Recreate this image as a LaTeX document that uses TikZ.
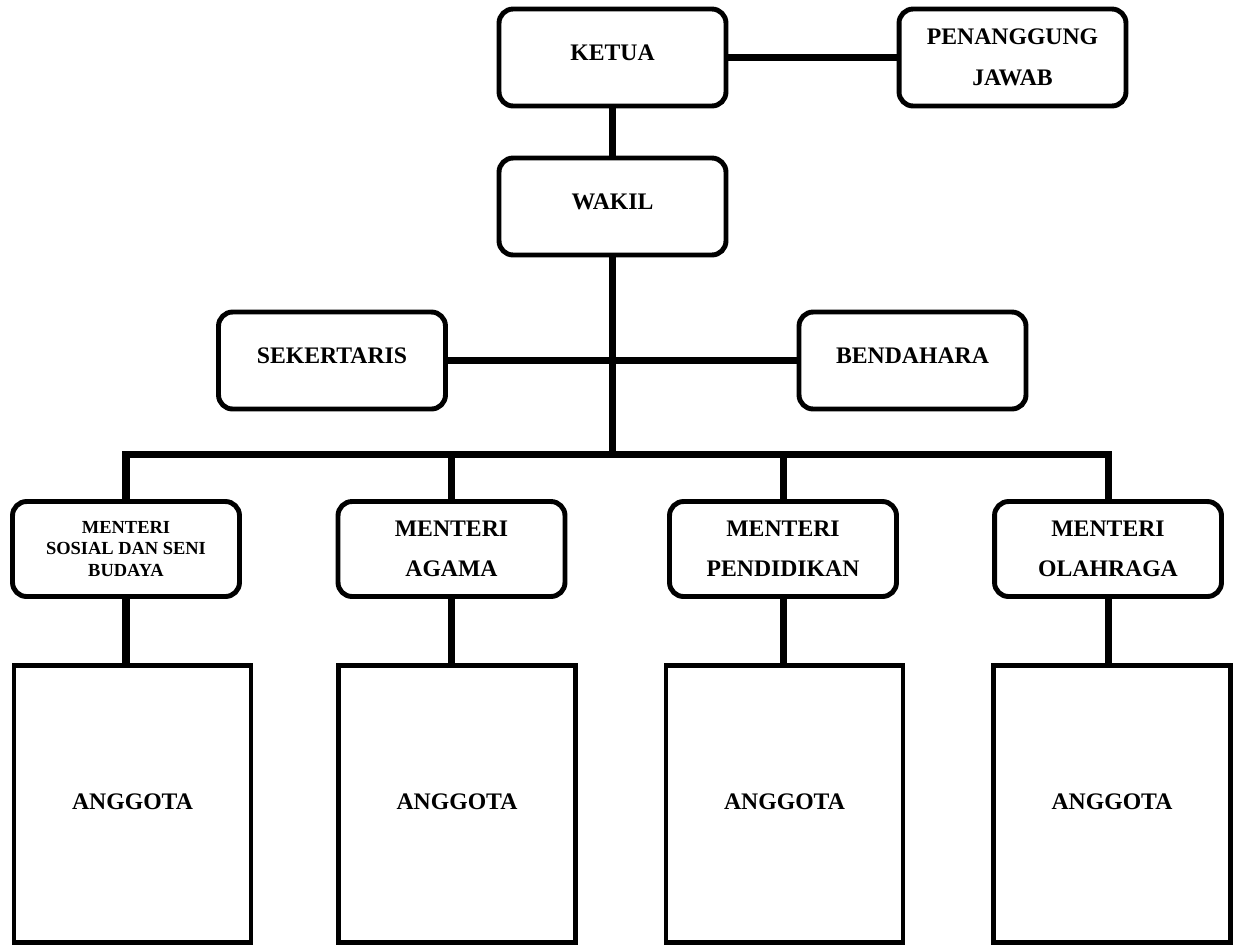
\documentclass[tikz,border=0pt]{standalone}
\usepackage{fontspec}
\setmainfont{Liberation Serif}
\usepackage{tikz}
\usetikzlibrary{calc}

\begin{document}
\begin{tikzpicture}[x=0.02cm,y=-0.02cm,
    jabatan/.style={rectangle, rounded corners=8pt, draw=black, line width=2.8pt, minimum width=4.54cm, minimum height=1.94cm, inner sep=2pt, align=center, font=\fontsize{13.5}{23}\selectfont\bfseries},
    satu/.style={text depth=5pt},
    anggota/.style={rectangle, draw=black, line width=2.8pt, minimum width=4.74cm, minimum height=5.54cm, text depth=3pt, font=\fontsize{13.5}{23}\selectfont\bfseries},
    garis/.style={line width=4pt}]

\useasboundingbox (0,0) rectangle (1239,948);

%the top
    \node[jabatan, satu] (ketua) at (612.5,57.5) {KETUA};
    \node[jabatan] (pj) at (1012.5,57.5) {PENANGGUNG\\JAWAB};
    \node[jabatan, satu] (wakil) at (612.5,206.5) {WAKIL};
    \node[jabatan, satu] (sek) at (332,360.5) {SEKERTARIS};
    \node[jabatan, satu] (ben) at (912.5,360.5) {BENDAHARA};
    \coordinate (bus) at (612.5,454);

%the ministers
    \node[jabatan, minimum height=1.9cm, font=\fontsize{10.5}{12}\selectfont\bfseries] (m1) at (126,549) {MENTERI\\SOSIAL DAN SENI\\BUDAYA};
    \node[jabatan, minimum height=1.9cm] (m2) at (451.5,549) {MENTERI\\AGAMA};
    \node[jabatan, minimum height=1.9cm] (m3) at (783,549) {MENTERI\\PENDIDIKAN};
    \node[jabatan, minimum height=1.9cm] (m4) at (1108,549) {MENTERI\\OLAHRAGA};

%the members
    \node[anggota] (a1) at (132.5,804) {ANGGOTA};
    \node[anggota] (a2) at (457,804) {ANGGOTA};
    \node[anggota] (a3) at (784.5,804) {ANGGOTA};
    \node[anggota] (a4) at (1112,804) {ANGGOTA};

%the lines
    \draw[garis] (ketua) to (pj);
    \draw[garis] (ketua) to (wakil);
    \draw[garis] (wakil) to (bus);
    \draw[garis] (sek) to (ben);
    \draw[garis] (m1.north) -- (m1.north |- bus) -- (m4.north |- bus) -- (m4.north);
\foreach \i in {2,3}
    \draw[garis] (m\i.north) -- (m\i.north |- bus);
\foreach \i in {1,...,4}
    \draw[garis] (m\i.south) -- (m\i.south |- a\i.north);
\end{tikzpicture}
\end{document}
